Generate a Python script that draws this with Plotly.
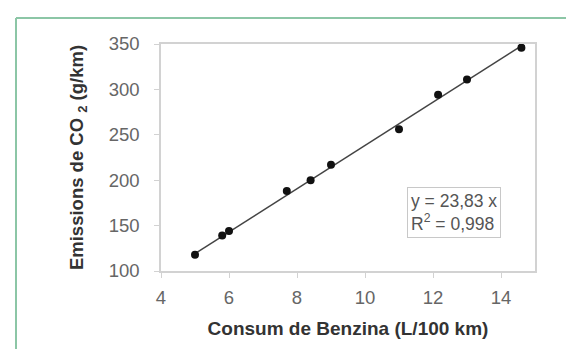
import plotly.graph_objects as go

# Data
consum = [5.0, 5.8, 6.0, 7.7, 8.4, 9.0, 11.0, 12.15, 13.0, 14.6]
emissions = [118, 139, 144, 188, 200, 217, 256, 294, 311, 346]
slope = 23.83
r2_text = "0,998"
x_ticks = [4, 6, 8, 10, 12, 14]
y_ticks = [100, 150, 200, 250, 300, 350]

FONT = "Arial, Liberation Sans, sans-serif"

x_line = [min(consum), max(consum)]
y_line = [slope * v for v in x_line]

fig = go.Figure()
fig.add_trace(go.Scatter(x=x_line, y=y_line, mode="lines",
                         line=dict(color="#444444", width=1.5),
                         hoverinfo="skip", showlegend=False))
fig.add_trace(go.Scatter(x=consum, y=emissions, mode="markers",
                         marker=dict(color="#111111", size=8),
                         showlegend=False))

L, R, T, B = 153, 47, 36, 86
W, H = 574, 349
pw, ph = W - L - R, H - T - B

def px_x(p):
    return (p - L) / pw

def px_y(p):
    return (H - B - p) / ph

green = "#8cc6a6"
fig.add_shape(type="line", xref="paper", yref="paper",
              x0=px_x(8), x1=px_x(8), y0=px_y(10), y1=px_y(H + 5),
              line=dict(color=green, width=2))
fig.add_shape(type="line", xref="paper", yref="paper",
              x0=px_x(8), x1=px_x(W + 5), y0=px_y(10), y1=px_y(10),
              line=dict(color=green, width=2))

fig.add_annotation(xref="paper", yref="paper", x=px_x(446), y=px_y(204),
                   xanchor="center", yanchor="middle", showarrow=False,
                   text=f"y = {slope:.2f}".replace(".", ",") + f" x<br>R<sup>2</sup> = {r2_text}",
                   align="left", font=dict(family=FONT, size=17.5, color="#555555"),
                   bordercolor="#c8c8c8", borderwidth=1, borderpad=3,
                   bgcolor="white")

axis_common = dict(showgrid=False, zeroline=False, showline=True, mirror=True,
                   linecolor="#d2d2d2", linewidth=1.5, ticks="outside",
                   ticklen=5, tickcolor="#d2d2d2",
                   tickfont=dict(family=FONT, size=18.5, color="#666666"))

fig.update_xaxes(range=[4, 15], tickvals=x_ticks, ticklabelstandoff=4,
                 title=dict(text="<b>Consum de Benzina (L/100 km)</b>",
                            font=dict(family=FONT, size=19, color="#333333"),
                            standoff=15),
                 **axis_common)
fig.update_yaxes(range=[100, 350], tickvals=y_ticks, ticklabelstandoff=11,
                 title=dict(text="<b>Emissions de CO <sub>2</sub> (g/km)</b>",
                            font=dict(family=FONT, size=18.5, color="#333333"),
                            standoff=20),
                 **axis_common)

fig.update_layout(width=W, height=H, margin=dict(l=L, r=R, t=T, b=B),
                  paper_bgcolor="white", plot_bgcolor="white",
                  font=dict(family=FONT))

fig.write_html("out.html")
